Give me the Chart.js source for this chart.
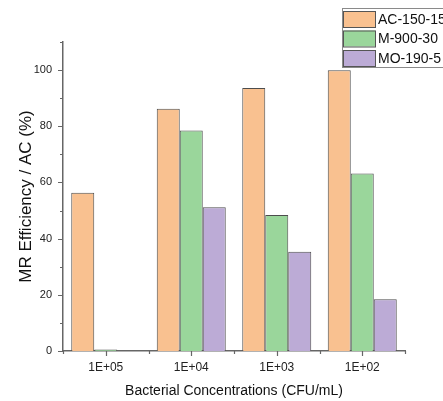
<!DOCTYPE html>
<html>
<head>
<meta charset="utf-8">
<script src="https://cdn.jsdelivr.net/npm/chart.js@4"></script>
<style>
  body { margin: 0; background: #fff; }
  canvas { display: block; }
</style>
</head>
<body>
<canvas id="myChart" width="443" height="401"></canvas>
<script>
var categories = ['1E+05', '1E+04', '1E+03', '1E+02'];
var seriesNames = ['AC-150-15', 'M-900-30', 'MO-190-5'];
var acValues = [56.3, 86.2, 93.6, 99.9];
var mValues = [0.5, 78.5, 48.4, 63.2];
var moValues = [0, 51.2, 35.3, 18.4];
var fillColors = ['#f9c190', '#9ad69b', '#bcabd6'];

var FONT = "'Liberation Sans', Arial, sans-serif";
Chart.defaults.font.family = FONT;

// tick marks drawn outside the axes, long at majors, short at minors
var tickMarks = {
    id: 'tickMarks',
    afterDraw: function (chart) {
        var c = chart.ctx, x = chart.scales.x, y = chart.scales.y;
        var left = chart.chartArea.left, bottom = chart.chartArea.bottom;
        c.save();
        c.strokeStyle = '#666';
        c.lineWidth = 1.2;
        c.beginPath();
        for (var v = 0; v <= 110; v += 10) {
            var py = Math.round(y.getPixelForValue(v)) + 0.5;
            var len = v % 20 === 0 ? 5 : 3;
            c.moveTo(left, py);
            c.lineTo(left - len, py);
        }
        for (var i = 0; i < categories.length; i++) {
            var px = Math.round(x.getPixelForValue(i)) + 0.5;
            c.moveTo(px, bottom);
            c.lineTo(px, bottom + 5);
        }
        for (var j = -0.5; j <= categories.length - 0.5; j += 1) {
            var qx = Math.round(x.getPixelForValue(j)) + 0.5;
            c.moveTo(qx, bottom);
            c.lineTo(qx, bottom + 3);
        }
        c.stroke();
        c.restore();
    }
};

// boxed legend in the top right corner, running off the canvas edge
var boxLegend = {
    id: 'boxLegend',
    afterDraw: function (chart) {
        var c = chart.ctx;
        var bx = 342, by = 8, rowH = 19.5;
        c.save();
        c.fillStyle = '#fff';
        c.fillRect(bx, by, 120, 59);
        c.strokeStyle = '#8a8a8a';
        c.lineWidth = 1;
        c.strokeRect(bx + 0.5, by + 0.5, 120, 59);
        c.font = '14px ' + FONT;
        c.textBaseline = 'middle';
        chart.data.datasets.forEach(function (ds, i) {
            var ry = by + 3 + i * rowH;
            c.fillStyle = ds.backgroundColor;
            c.fillRect(bx + 1.5, ry, 32, 16);
            c.strokeStyle = '#555';
            c.strokeRect(bx + 1.5, ry + 0.5, 32, 16);
            c.fillStyle = '#111';
            c.fillText(ds.label, bx + 36, ry + 9);
        });
        c.restore();
    }
};

var ctx = document.getElementById('myChart').getContext('2d');
var myChart = new Chart(ctx, {
    type: 'bar',
    data: {
        labels: categories,
        datasets: [
            { label: seriesNames[0], data: acValues, backgroundColor: fillColors[0] },
            { label: seriesNames[1], data: mValues, backgroundColor: fillColors[1] },
            { label: seriesNames[2], data: moValues, backgroundColor: fillColors[2] }
        ]
    },
    options: {
        responsive: false,
        animation: false,
        layout: { padding: { top: 42, right: 38, left: 0, bottom: 0 } },
        datasets: {
            bar: {
                categoryPercentage: 0.807,
                barPercentage: 1,
                borderWidth: 1,
                borderColor: '#4d4d4d'
            }
        },
        plugins: {
            legend: { display: false },
            tooltip: { enabled: false }
        },
        scales: {
            x: {
                offset: true,
                grid: { display: false, drawTicks: false },
                border: { color: '#666', width: 1.5 },
                ticks: { color: '#222', font: { size: 12 }, padding: 9, maxRotation: 0 },
                title: {
                    display: true,
                    text: 'Bacterial Concentrations (CFU/mL)',
                    color: '#111',
                    font: { size: 14 },
                    padding: { top: 0, bottom: 1 }
                },
                afterFit: function (s) { s.height = 50; }
            },
            y: {
                min: 0,
                max: 110,
                grid: { display: false, drawTicks: false },
                border: { color: '#666', width: 1.5 },
                ticks: {
                    stepSize: 10,
                    color: '#222',
                    font: { size: 11 },
                    padding: 11,
                    callback: function (v) { return v % 20 === 0 ? v : ''; }
                },
                title: {
                    display: true,
                    text: 'MR Efficiency / AC (%)',
                    color: '#111',
                    font: { size: 17 },
                    padding: { top: 16, bottom: 0 }
                },
                afterFit: function (s) { s.width = 63; }
            }
        }
    },
    plugins: [tickMarks, boxLegend]
});
</script>
</body>
</html>
